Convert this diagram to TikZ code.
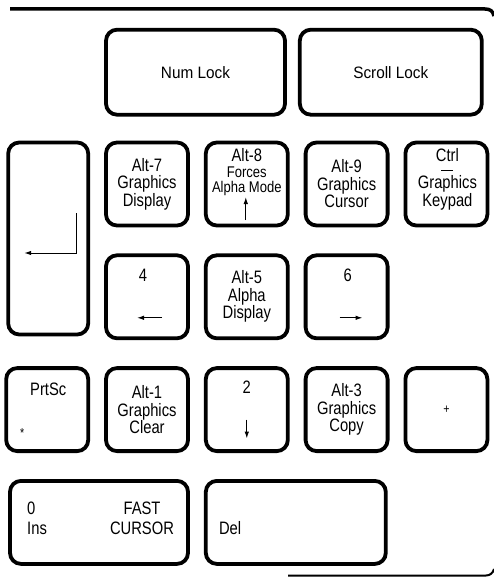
\documentclass[tikz,border=0pt]{standalone}
\usepackage{fontspec}
\setmainfont[FakeStretch=0.82]{Liberation Sans}
\newfontfamily\lockfamily[FakeStretch=0.93]{Liberation Sans}
\newfontfamily\modefamily[FakeStretch=0.84]{Liberation Sans}
\usetikzlibrary{positioning, arrows.meta}

\begin{document}
\begin{tikzpicture}[
    x=1pt, y=-1pt,
    >={Latex[length=7pt,width=4.5pt]},
    every node/.style={inner sep=0pt},
    keybox/.style={draw=black, line width=3.8pt, rounded corners=11pt, minimum width=82pt,
                   minimum height=83pt, align=center, font=\fontsize{18}{17.5}\selectfont},
    lockbox/.style={keybox, minimum height=85pt, font=\lockfamily\fontsize{16.5}{16}\selectfont},
    keylabel/.style={anchor=base, font=\fontsize{18}{17.5}\selectfont},
    modelabel/.style={anchor=base, font=\modefamily\fontsize{15.5}{15}\selectfont},
    marklabel/.style={font=\fontsize{13}{13}\selectfont},
    keyarrow/.style={->, line width=1.1pt},
]
\useasboundingbox (0,0) rectangle (494,577);
\node[keybox] (n_alt7) at (147,184) {Alt-7\\Graphics\\Display};
\node[keybox, right=14pt of n_alt7] (n_alt8) {};
\node[keybox, right=14pt of n_alt8] (n_alt9) {Alt-9\\Graphics\\Cursor};
\node[keybox, right=14pt of n_alt9] (n_ctrl) {};
\node[lockbox, minimum width=179pt, above=24pt of n_alt7.north west, anchor=south west] (n_num) {Num Lock};
\node[lockbox, minimum width=182pt, right=11pt of n_num] (n_scroll) {Scroll Lock};
\node[keybox, minimum width=80pt, minimum height=192pt, left=14pt of n_alt7.north west, anchor=north east] (n_enter) {};
\node[keybox, below=26pt of n_alt7] (n_four) {};
\node[keybox, right=14pt of n_four] (n_alt5) {Alt-5\\Alpha\\Display};
\node[keybox, right=14pt of n_alt5] (n_six) {};
\node[keybox, below=26pt of n_four] (n_alt1) {Alt-1\\Graphics\\Clear};
\node[keybox, right=14pt of n_alt1] (n_two) {};
\node[keybox, right=14pt of n_two] (n_alt3) {Alt-3\\Graphics\\Copy};
\node[keybox, right=14pt of n_alt3, font=\fontsize{13}{13}\selectfont] (n_plus) {+};
\node[keybox, left=14pt of n_alt1] (n_prtsc) {};
\node[keybox, minimum width=178pt, below=26pt of n_alt1.south east, anchor=north east] (n_ins) {};
\node[keybox, minimum width=180pt, below=26pt of n_two.south west, anchor=north west] (n_del) {};
\node[keylabel] (n_alt8_a) at ([yshift=22pt]n_alt8.center) {Alt-8};
\node[modelabel] (n_alt8_b) at ([yshift=6pt]n_alt8.center) {Forces};
\node[modelabel] (n_alt8_c) at ([yshift=-9pt]n_alt8.center) {Alpha Mode};
\node[keylabel] (n_ctrl_a) at ([xshift=1pt, yshift=22pt]n_ctrl.center) {Ctrl};
\node[keylabel] (n_ctrl_b) at ([xshift=1pt, yshift=-5pt]n_ctrl.center) {Graphics};
\node[keylabel] (n_ctrl_c) at ([xshift=1pt, yshift=-22pt]n_ctrl.center) {Keypad};
\node[keylabel] (n_four_a) at ([xshift=-4pt, yshift=15pt]n_four.center) {4};
\node[keylabel] (n_six_a) at ([xshift=1pt, yshift=15pt]n_six.center) {6};
\node[keylabel] (n_prtsc_a) at ([xshift=1pt, yshift=14pt]n_prtsc.center) {PrtSc};
\node[marklabel] (n_prtsc_b) at ([xshift=-25pt, yshift=-23pt]n_prtsc.center) {*};
\node[keylabel] (n_two_a) at ([yshift=16pt]n_two.center) {2};
\node[keylabel, anchor=base west] (n_ins_a) at ([xshift=-72pt, yshift=8pt]n_ins.center) {0};
\node[keylabel, anchor=base west] (n_ins_b) at ([xshift=-72pt, yshift=-12pt]n_ins.center) {Ins};
\node[keylabel] (n_ins_c) at ([xshift=43pt, yshift=8pt]n_ins.center) {FAST};
\node[keylabel] (n_ins_d) at ([xshift=43pt, yshift=-12pt]n_ins.center) {CURSOR};
\node[keylabel, anchor=base west] (n_del_a) at ([xshift=-77pt, yshift=-12pt]n_del.center) {Del};
\coordinate (n_enter_top) at ([xshift=28pt, yshift=25.5pt]n_enter.center);
\coordinate (n_enter_tip) at ([xshift=-24pt, yshift=-14.5pt]n_enter.center);
\coordinate (n_alt8_from) at ([xshift=-1pt, yshift=-36pt]n_alt8.center);
\coordinate (n_alt8_to) at ([xshift=-1pt, yshift=-13pt]n_alt8.center);
\coordinate (n_ctrl_l) at ([xshift=-5pt, yshift=14pt]n_ctrl.center);
\coordinate (n_ctrl_r) at ([xshift=7pt, yshift=14pt]n_ctrl.center);
\coordinate (n_four_from) at ([xshift=15pt, yshift=-21pt]n_four.center);
\coordinate (n_four_to) at ([xshift=-10pt, yshift=-21pt]n_four.center);
\coordinate (n_six_from) at ([xshift=-7pt, yshift=-21pt]n_six.center);
\coordinate (n_six_to) at ([xshift=16pt, yshift=-21pt]n_six.center);
\coordinate (n_two_from) at ([yshift=-10pt]n_two.center);
\coordinate (n_two_to) at ([yshift=-29pt]n_two.center);
\draw[keyarrow, line width=1pt] (n_enter_top) |- (n_enter_tip);
\draw[keyarrow] (n_alt8_from) -- (n_alt8_to);
\draw[line width=0.8pt] (n_ctrl_l) -- (n_ctrl_r);
\draw[keyarrow] (n_four_from) -- (n_four_to);
\draw[keyarrow] (n_six_from) -- (n_six_to);
\draw[keyarrow] (n_two_from) -- (n_two_to);
\draw[line width=3.5pt] (10,9) -- (485,9) .. controls (490,9) and (493,11) .. (494,16);
\draw[line width=2pt] (288,575.5) -- (486,575.5) .. controls (490,575.5) and (493,573) .. (494,569);
\end{tikzpicture}
\end{document}
